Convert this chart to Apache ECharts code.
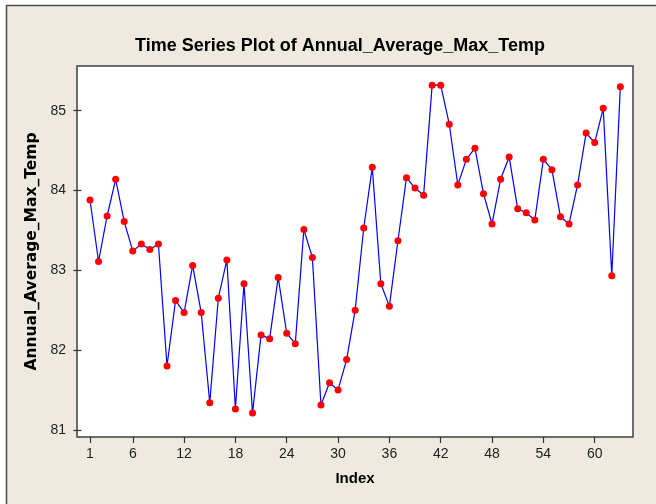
<!DOCTYPE html>
<html>
<head>
<meta charset="utf-8">
<script src="https://cdn.jsdelivr.net/npm/echarts@6/dist/echarts.min.js"></script>
<style>
  html, body { margin: 0; padding: 0; background: #ffffff; }
  #chart { width: 656px; height: 504px; }
</style>
</head>
<body>
<div id="chart"></div>
<script>
// Annual average maximum temperature, one value per index (1..63)
const temps = [
  83.88, 83.11, 83.68, 84.14, 83.61, 83.24, 83.33, 83.26, 83.33, 81.80,
  82.62, 82.47, 83.06, 82.47, 81.34, 82.65, 83.13, 81.26, 82.83, 81.21,
  82.19, 82.14, 82.91, 82.21, 82.08, 83.51, 83.16, 81.31, 81.59, 81.50,
  81.88, 82.50, 83.53, 84.29, 82.83, 82.55, 83.37, 84.16, 84.03, 83.94,
  85.32, 85.32, 84.83, 84.07, 84.39, 84.53, 83.96, 83.58, 84.14, 84.42,
  83.77, 83.72, 83.63, 84.39, 84.26, 83.67, 83.58, 84.07, 84.72, 84.60,
  85.03, 82.93, 85.30
];

// Tick positions shown on each axis
const xTicks = [1, 6, 12, 18, 24, 30, 36, 42, 48, 54, 60];
const yTicks = [81, 82, 83, 84, 85];

const points = temps.map((t, i) => [i + 1, t]);

const narrow = '"Liberation Sans Narrow", "Arial Narrow", "Liberation Sans", sans-serif';

const chart = echarts.init(document.getElementById('chart'), null, { renderer: 'canvas' });

chart.setOption({
  backgroundColor: '#ffffff',
  animation: false,
  graphic: [
    {
      type: 'rect',
      z: -10,
      silent: true,
      shape: { x: 6.5, y: 5.5, width: 700, height: 560 },
      style: { fill: '#EEEAE0', stroke: '#4a4a4a', lineWidth: 1.5 }
    }
  ],
  title: {
    text: 'Time Series Plot of Annual_Average_Max_Temp',
    left: 335,
    top: 32,
    textAlign: 'center',
    textStyle: {
      fontFamily: narrow,
      fontWeight: 'bold',
      fontSize: 18,
      color: '#000000'
    }
  },
  grid: {
    left: 77,
    top: 66,
    right: 23,
    bottom: 67,
    show: true,
    backgroundColor: '#ffffff',
    borderColor: '#404040',
    borderWidth: 1.5
  },
  xAxis: {
    type: 'value',
    min: -0.52,
    max: 64.48,
    name: 'Index',
    nameLocation: 'middle',
    nameGap: 34,
    nameTextStyle: {
      fontFamily: '"Liberation Sans", Arial, sans-serif',
      fontWeight: 'bold',
      fontSize: 15,
      color: '#000000'
    },
    axisLine: { show: false },
    splitLine: { show: false },
    axisTick: {
      show: true,
      length: 6,
      customValues: xTicks,
      lineStyle: { color: '#333333', width: 1.2 }
    },
    axisLabel: {
      customValues: xTicks,
      margin: 10,
      fontFamily: narrow,
      fontSize: 14,
      color: '#222222'
    }
  },
  yAxis: {
    type: 'value',
    min: 80.91,
    max: 85.56,
    name: 'Annual_Average_Max_Temp',
    nameLocation: 'middle',
    nameGap: 34,
    nameRotate: 90,
    nameTextStyle: {
      fontFamily: '"DejaVu Sans", Verdana, sans-serif',
      fontWeight: 'bold',
      fontSize: 15.5,
      color: '#000000'
    },
    axisLine: { show: false },
    splitLine: { show: false },
    axisTick: {
      show: true,
      length: 8,
      customValues: yTicks,
      lineStyle: { color: '#333333', width: 1.2 }
    },
    axisLabel: {
      customValues: yTicks,
      margin: 11,
      fontFamily: narrow,
      fontSize: 14,
      color: '#222222'
    }
  },
  series: [
    {
      type: 'line',
      data: points,
      symbol: 'circle',
      symbolSize: 7,
      showAllSymbol: true,
      clip: false,
      lineStyle: { color: '#0000ff', width: 1.2 },
      itemStyle: { color: '#ff0000', borderWidth: 0 }
    }
  ]
});
</script>
</body>
</html>
